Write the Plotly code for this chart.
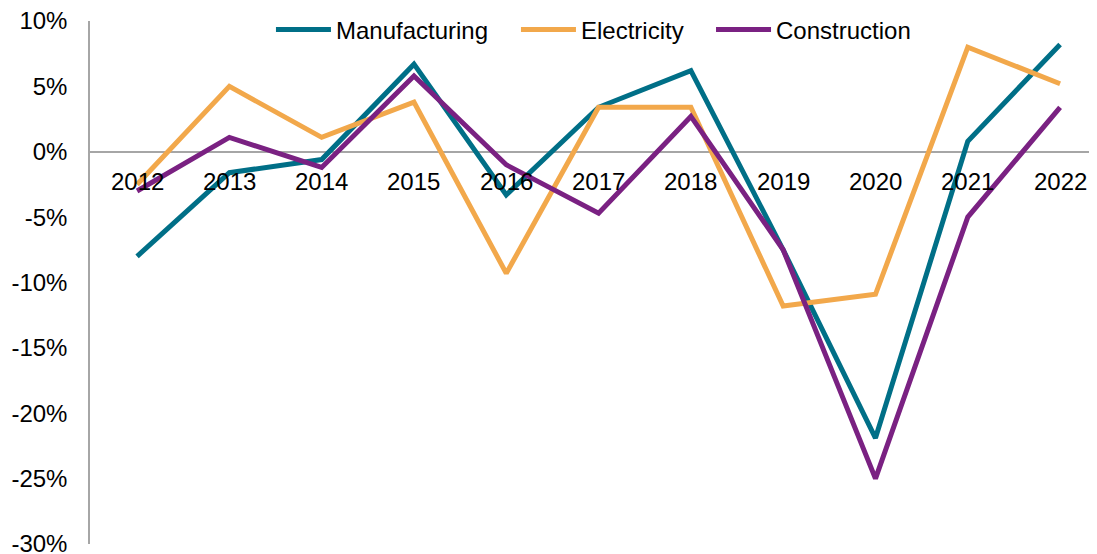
import plotly.graph_objects as go

# year-on-year change, %
years = [2012, 2013, 2014, 2015, 2016, 2017, 2018, 2019, 2020, 2021, 2022]
manufacturing = [-8.0, -1.6, -0.6, 6.7, -3.3, 3.4, 6.2, -7.5, -21.9, 0.8, 8.2]
electricity = [-2.5, 5.0, 1.1, 3.8, -9.3, 3.4, 3.4, -11.8, -10.9, 8.0, 5.2]
construction = [-3.0, 1.1, -1.2, 5.8, -1.0, -4.7, 2.7, -7.5, -25.0, -5.0, 3.4]

y_ticks = [10, 5, 0, -5, -10, -15, -20, -25, -30]
y_labels = [f"{v}%" for v in y_ticks]

series = [
    ("Manufacturing", manufacturing, "#006F87"),
    ("Electricity", electricity, "#F2A84B"),
    ("Construction", construction, "#7A2182"),
]
# one small legend per series so the entries can be spaced like the original
legend_ids = ["legend", "legend2", "legend3"]
legend_x = [0.1797, 0.423, 0.6167]

fig = go.Figure()
for (name, vals, color), lid in zip(series, legend_ids):
    fig.add_trace(go.Scatter(x=years, y=vals, name=name, mode="lines",
                             line=dict(color=color, width=5), legend=lid))

# category labels sit just under the zero line, like the Excel original
for yr in years:
    fig.add_annotation(x=yr, y=0, text=str(yr), showarrow=False,
                       yanchor="middle", yshift=-30,
                       font=dict(size=24, color="#000000"))

# page body has an 8px margin, so the figure is drawn 8px smaller/offset
legend_style = dict(orientation="h", y=0.983, xanchor="left", yanchor="middle",
                    bgcolor="rgba(0,0,0,0)", itemwidth=55, font=dict(size=24))
fig.update_layout(
    width=1089, height=546,
    margin=dict(l=82, r=0, t=13, b=10, autoexpand=False),
    paper_bgcolor="white", plot_bgcolor="white",
    font=dict(family="Liberation Sans, Arial, sans-serif", size=24, color="#000000"),
    showlegend=True,
    legend=dict(x=legend_x[0], **legend_style),
    legend2=dict(x=legend_x[1], **legend_style),
    legend3=dict(x=legend_x[2], **legend_style),
)
fig.update_xaxes(range=[2011.49, 2022.4], showticklabels=False, showgrid=False,
                 zeroline=False, showline=False, automargin=False)
fig.update_yaxes(range=[-30, 10], tickvals=y_ticks, ticktext=y_labels,
                 showgrid=False, zeroline=True, zerolinecolor="#A6A6A6", zerolinewidth=1.5,
                 showline=True, linecolor="#A6A6A6", linewidth=1.5,
                 ticks="", ticklabelstandoff=16, ticklabeloverflow="allow",
                 automargin=False)

fig.write_html("out.html")
